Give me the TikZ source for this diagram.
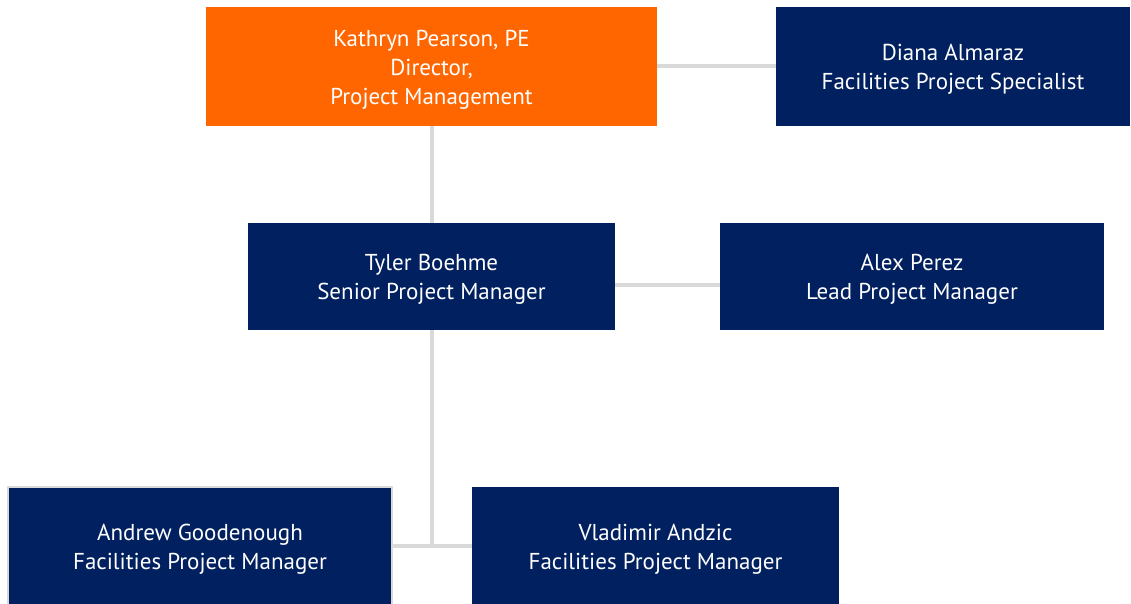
\documentclass[tikz,border=0pt]{standalone}
\usepackage{fontspec}
\setmainfont{PT Sans}
\definecolor{navy}{HTML}{00205F}
\definecolor{orng}{HTML}{FF6600}
\definecolor{conn}{HTML}{D9D9D9}
\begin{document}
\begin{tikzpicture}[x=1pt,y=-1pt,
  box/.style={fill=navy,inner sep=0pt,
    label={[txt]center:#1}},
  txt/.style={text=white,align=center,inner sep=0pt,yshift=-3pt,
    font=\fontsize{23}{29}\selectfont},
  link/.style={draw=conn,line width=4pt}]
\useasboundingbox (0,0) rectangle (1131,604);
\node[box={Kathryn Pearson, PE\\Director,\\Project Management},fill=orng,minimum width=451pt,minimum height=119pt] (kp) at (431.5,66.5) {};
\node[box={Diana Almaraz\\Facilities Project Specialist},minimum width=354pt,minimum height=119pt] (da) at (953,66.5) {};
\node[box={Tyler Boehme\\Senior Project Manager},minimum width=367pt,minimum height=107pt] (tb) at (431.5,276.5) {};
\node[box={Alex Perez\\Lead Project Manager},minimum width=384pt,minimum height=107pt] (ap) at (912,276.5) {};
\node[box={Andrew Goodenough\\Facilities Project Manager},draw=conn,line width=2pt,minimum width=384pt,minimum height=118pt] (ag) at (200,546) {};
\node[box={Vladimir Andzic\\Facilities Project Manager},minimum width=367pt,minimum height=118pt] (va) at (655.5,546) {};
\draw[link] (kp.east) -- (da.west);
\draw[link] (kp.south) -- (tb.north);
\draw[link] ([yshift=-8.5pt]tb.east) -- ([yshift=-8.5pt]ap.west);
\draw[link] (tb.south) -- (tb.south |- ag.east);
\draw[link] (ag.east) -- (va.west);
\end{tikzpicture}
\end{document}
